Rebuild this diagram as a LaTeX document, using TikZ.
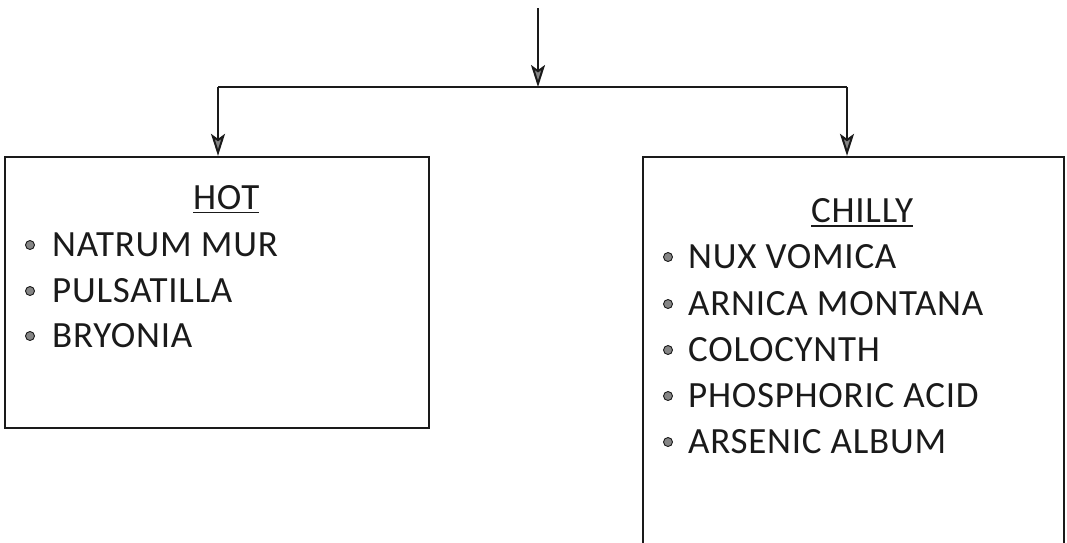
\documentclass[tikz,border=0pt]{standalone}
\usepackage{fontspec}
\setmainfont{Carlito}
\usetikzlibrary{arrows.meta}
\definecolor{ink}{HTML}{1A1A1A}
\definecolor{dotgray}{HTML}{858585}
\newfontfamily\itemfont[LetterSpace=2]{Carlito}
\tikzset{
  boxst/.style={draw=ink, line width=2.3pt, rectangle, inner sep=0pt},
  conn/.style={draw=ink, line width=2pt},
  arr/.style={conn, -{Stealth[length=22pt, width=14pt, inset=5pt, fill=dotgray]}},
  itemtxt/.style={anchor=base west, inner sep=0pt, text=ink, font=\itemfont\fontsize{37}{42}\selectfont},
  headtxt/.style={anchor=base west, inner sep=0pt, text=ink, font=\itemfont\fontsize{37}{42}\selectfont},
  bul/.style={circle, draw=ink, line width=0.9pt, fill=dotgray, minimum size=9pt, inner sep=0pt},
  uline/.style={draw=ink, line width=1.8pt}
}
\begin{document}
\begin{tikzpicture}[x=1pt,y=-1pt]
\useasboundingbox (0,0) rectangle (1067,542);
% boxes
\node[boxst, minimum width=424pt, minimum height=271pt] (hotbox) at (217,292.5) {};
\node[boxst, minimum width=421pt, minimum height=400pt] (chillbox) at (853.5,357) {};
% connectors
\coordinate (top) at (538,8);
\coordinate (junc) at (538,87);
\coordinate (lc) at (218,87);
\coordinate (rc) at (847,87);
\draw[arr] (top) -- (junc);
\draw[conn] (lc) -- (rc);
\draw[arr] (lc) -- (lc |- hotbox.north);
\draw[arr] (rc) -- (rc |- chillbox.north);
% HOT box
\node[headtxt] (hot) at (193,209) {HOT};
\path (hot.base west) ++(0,3.5) coordinate (hu1) (hot.base east) ++(0,3.5) coordinate (hu2);
\draw[uline] (hu1) -- (hu2);
\node[itemtxt] (h1) at (52,256) {NATRUM MUR};
\node[itemtxt] (h2) at (52,302) {PULSATILLA};
\node[itemtxt] (h3) at (52,347) {BRYONIA};
\node[bul] (hb1) at (30,245) {};
\node[bul] (hb2) at (30,291) {};
\node[bul] (hb3) at (30,336) {};
% CHILLY box
\node[headtxt] (chilly) at (811,222) {CHILLY};
\path (chilly.base west) ++(0,4) coordinate (cu1) (chilly.base east) ++(0,4) coordinate (cu2);
\draw[uline] (cu1) -- (cu2);
\node[itemtxt] (c1) at (688,268) {NUX VOMICA};
\node[itemtxt] (c2) at (688,315) {ARNICA MONTANA};
\node[itemtxt] (c3) at (688,361) {COLOCYNTH};
\node[itemtxt] (c4) at (688,407) {PHOSPHORIC ACID};
\node[itemtxt] (c5) at (688,453) {ARSENIC ALBUM};
\node[bul] (cb1) at (668,257) {};
\node[bul] (cb2) at (668,304) {};
\node[bul] (cb3) at (668,350) {};
\node[bul] (cb4) at (668,396) {};
\node[bul] (cb5) at (668,442) {};
\end{tikzpicture}
\end{document}
